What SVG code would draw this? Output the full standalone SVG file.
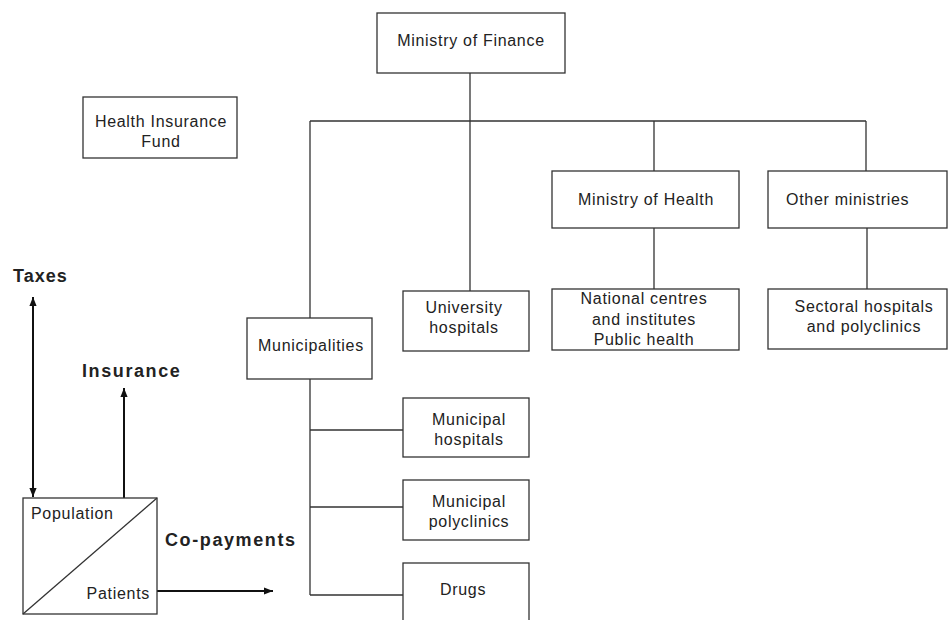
<svg xmlns="http://www.w3.org/2000/svg" width="948" height="620" viewBox="0 0 948 620">
<style>
.box{fill:#fff;stroke:#333;stroke-width:1.3}
.ln{stroke:#333;stroke-width:1.3;fill:none}
.ar{stroke:#111;stroke-width:2;fill:none}
.t{font-family:"Liberation Sans",Arial,sans-serif;font-size:16px;letter-spacing:0.7px;fill:#222;text-anchor:middle}
.ts{font-family:"Liberation Sans",Arial,sans-serif;font-size:16px;letter-spacing:0.7px;fill:#222}
.b{font-family:"Liberation Sans",Arial,sans-serif;font-size:18px;font-weight:bold;fill:#222;letter-spacing:1.6px}
</style>
<defs>
<marker id="ah" viewBox="0 0 10 10" refX="10" refY="5" markerWidth="9" markerHeight="9" markerUnits="userSpaceOnUse" orient="auto-start-reverse">
<path d="M0,1 L10,5 L0,9 z" fill="#111"/>
</marker>
</defs>
<rect width="948" height="620" fill="#fff"/>
<g id="connectors">
<path class="ln" d="M470,73 V121 M310,121 H866 M310,121 V318 M470,121 V291 M654,121 V171 M866,121 V171 M654,228 V289 M867,228 V289 M310,379 V595 M310,430 H403 M310,507 H403 M310,595 H403"/>
<line class="ar" x1="33" y1="297" x2="33" y2="497" marker-start="url(#ah)" marker-end="url(#ah)"/>
<line class="ar" x1="124" y1="498" x2="124" y2="388" marker-end="url(#ah)"/>
<line class="ar" x1="157" y1="591" x2="273" y2="591" marker-end="url(#ah)"/>
</g>
<g id="mof"><rect class="box" x="377" y="13" width="188" height="60"/><text class="t" x="471" y="46">Ministry of Finance</text></g>
<g id="hif"><rect class="box" x="83" y="97" width="154" height="61"/><text class="t" x="161" y="127">Health Insurance</text><text class="t" x="161" y="147">Fund</text></g>
<g id="moh"><rect class="box" x="552" y="171" width="187" height="57"/><text class="t" x="646" y="205">Ministry of Health</text></g>
<g id="other"><rect class="box" x="768" y="171" width="179" height="57"/><text class="ts" x="786" y="205">Other ministries</text></g>
<g id="national"><rect class="box" x="552" y="289" width="187" height="61"/><text class="t" x="644" y="304">National centres</text><text class="t" x="644" y="325">and institutes</text><text class="t" x="644" y="345">Public health</text></g>
<g id="sectoral"><rect class="box" x="768" y="289" width="179" height="60"/><text class="t" x="864" y="312">Sectoral hospitals</text><text class="t" x="864" y="332">and polyclinics</text></g>
<g id="university"><rect class="box" x="403" y="291" width="126" height="60"/><text class="t" x="464" y="313">University</text><text class="t" x="464" y="333">hospitals</text></g>
<g id="municipalities"><rect class="box" x="247" y="318" width="125" height="61"/><text class="t" x="311" y="351">Municipalities</text></g>
<g id="munhosp"><rect class="box" x="403" y="398" width="126" height="59"/><text class="t" x="469" y="425">Municipal</text><text class="t" x="469" y="445">hospitals</text></g>
<g id="munpoly"><rect class="box" x="403" y="480" width="126" height="60"/><text class="t" x="469" y="507">Municipal</text><text class="t" x="469" y="527">polyclinics</text></g>
<g id="drugs"><rect class="box" x="403" y="563" width="126" height="70"/><text class="t" x="463" y="595">Drugs</text></g>
<g id="population"><rect class="box" x="23" y="498" width="134" height="116"/><line class="ln" x1="23" y1="614" x2="157" y2="498"/><text class="ts" x="31" y="519">Population</text><text class="ts" x="150" y="599" text-anchor="end">Patients</text></g>
<g id="labels">
<text class="b" x="13" y="282" style="letter-spacing:1px">Taxes</text>
<text class="b" x="82" y="377">Insurance</text>
<text class="b" x="165" y="546">Co-payments</text>
</g>
</svg>
